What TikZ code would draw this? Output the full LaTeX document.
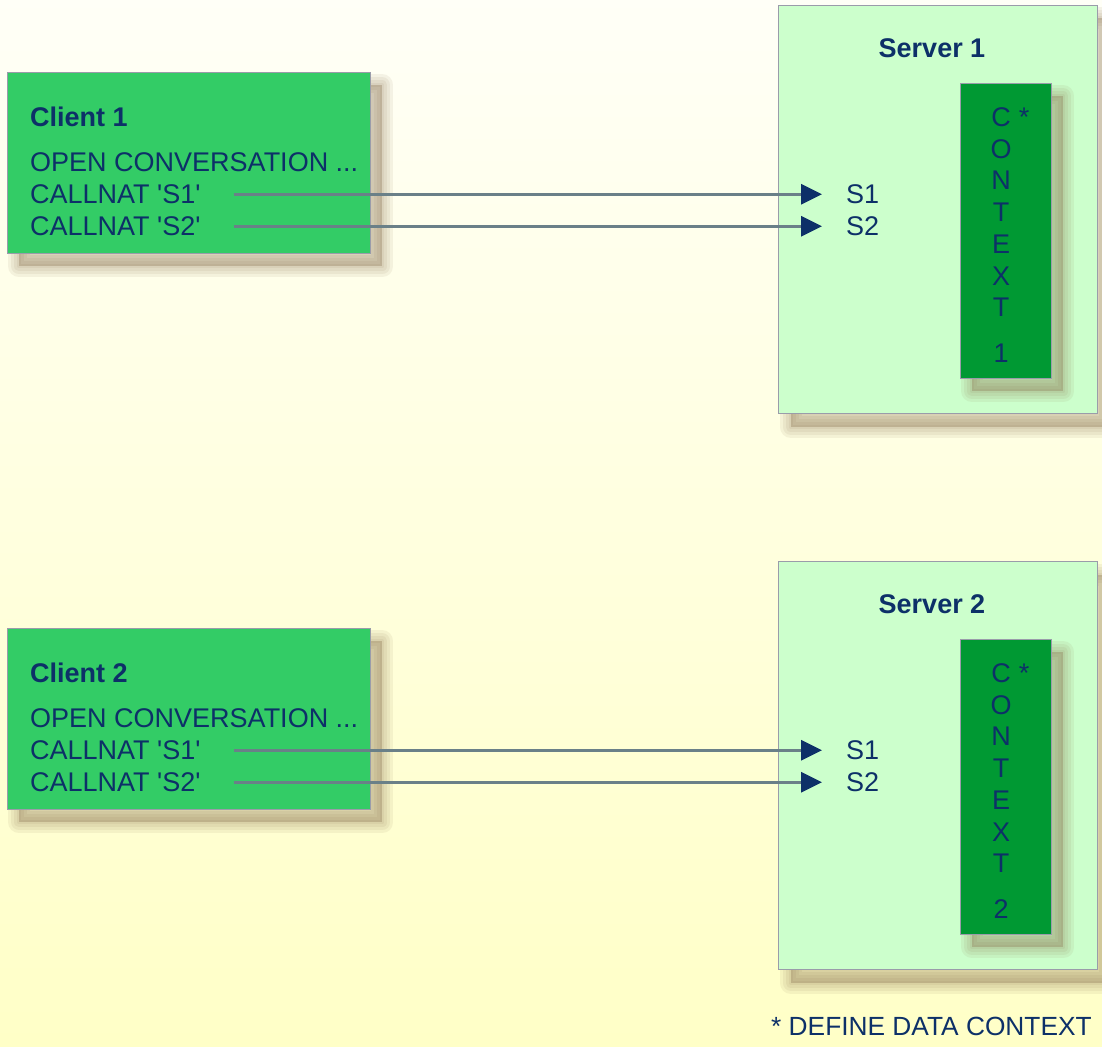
\documentclass[tikz,border=0pt]{standalone}
\usepackage{fontspec}
\setmainfont{Liberation Sans}[Ligatures=TeXOff]
\usetikzlibrary{arrows.meta}
\definecolor{navy}{HTML}{0D3068}
\definecolor{clientgreen}{HTML}{33CC66}
\definecolor{serverfill}{HTML}{CCFFCC}
\definecolor{boxline}{HTML}{9A9CAA}
\definecolor{contextgreen}{HTML}{009933}
\definecolor{wirecolor}{HTML}{6A8088}
\definecolor{shadowtone}{HTML}{8A7250}
\tikzset{
  shadowlayer/.style={preaction={draw=shadowtone,fill=shadowtone,line join=round,line width=#1,
    opacity=.09,transform canvas={shift={(12pt,-13pt)}}}},
  boxshadow/.style={shadowlayer=22pt,shadowlayer=16pt,shadowlayer=10pt,shadowlayer=4pt},
  clientbox/.style={draw=boxline,line width=.8pt,fill=clientgreen,anchor=north west,
    minimum width=363pt,minimum height=181pt,inner sep=0pt,boxshadow},
  serverbox/.style={draw=boxline,line width=1pt,fill=serverfill,anchor=north west,
    minimum width=319pt,minimum height=408pt,inner sep=0pt,boxshadow},
  contextbox/.style={draw=boxline,line width=.8pt,fill=contextgreen,anchor=north west,
    minimum width=91pt,minimum height=295pt,inner sep=0pt,boxshadow},
  txt/.style={text=navy,font=\fontsize{27}{31}\selectfont,inner sep=0pt},
  heading/.style={txt,font=\fontsize{27}{31}\selectfont\bfseries},
  callarrow/.style={wirecolor,line width=3pt,-{Triangle[color=navy,length=21pt,width=20pt]},shorten >=24pt}
}
\begin{document}
\begin{tikzpicture}[x=1pt,y=-1pt]
  % background
  \shade[top color=white!60!yellow!8,bottom color=yellow!22] (0,0) rectangle (1102,1046);
  \useasboundingbox (0,0) rectangle (1102,1046);

  \foreach \n/\dy in {1/0,2/556} {
    \begin{scope}[shift={(0,\dy)}]
      % client
      \node[clientbox] (client\n) at (7,72) {};
      \node[heading,anchor=base west] (client\n-title) at (30,126.5) {Client \n};
      \node[txt,anchor=base west] (client\n-open) at (30,171.5) {OPEN CONVERSATION ...};
      \node[txt,anchor=base west] (client\n-s1) at (30,203.5) {CALLNAT 'S1'};
      \node[txt,anchor=base west] (client\n-s2) at (30,235.5) {CALLNAT 'S2'};
      % server
      \node[serverbox] (server\n) at (778,5) {};
      \node[heading,anchor=base] (server\n-title) at (932,57.5) {Server \n};
      \node[txt,anchor=base west] (server\n-s1) at (846,203.5) {S1};
      \node[txt,anchor=base west] (server\n-s2) at (846,235.5) {S2};
      % context
      \node[contextbox] (context\n) at (960,83) {};
      \foreach \ch [count=\i] in {C,O,N,T,E,X,T}
        \node[txt,anchor=base] (context\n-\i) at (1001,{126.5+31.7*(\i-1)}) {\ch};
      \node[txt,anchor=base] (context\n-star) at (1024,126.5) {*};
      \node[txt,anchor=base] (context\n-num) at (1001,362.5) {\n};
      % calls
      \draw[callarrow] ([xshift=33pt]client\n-s1.east) -- (server\n-s1.west);
      \draw[callarrow] ([xshift=33pt]client\n-s2.east) -- (server\n-s2.west);
    \end{scope}
  }

  \node[txt,font=\fontsize{26.3}{30}\selectfont,anchor=base west] (note) at (771,1035.5) {* DEFINE DATA CONTEXT};
\end{tikzpicture}
\end{document}
